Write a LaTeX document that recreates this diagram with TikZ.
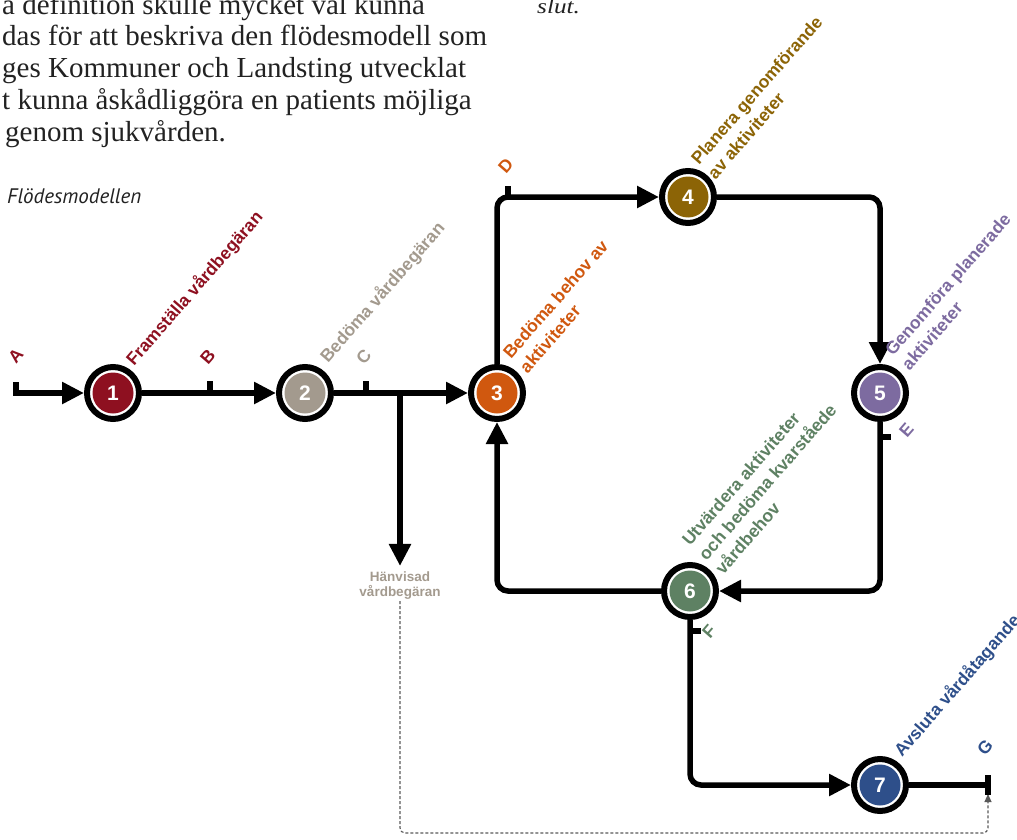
\documentclass[tikz,border=0pt]{standalone}
\usepackage{fontspec}
\setmainfont{Liberation Serif}
\newfontfamily\labfont{Liberation Sans}
\newfontfamily\captfont{PT Sans}
\usetikzlibrary{arrows.meta}
\definecolor{cone}{HTML}{8E1020}
\definecolor{ctwo}{HTML}{A39A8E}
\definecolor{cthree}{HTML}{D0580F}
\definecolor{cfour}{HTML}{8C6406}
\definecolor{cfive}{HTML}{7D6BA0}
\definecolor{csix}{HTML}{5E8163}
\definecolor{cseven}{HTML}{2E4F8A}
\definecolor{bodytext}{HTML}{222222}
\begin{document}
\begin{tikzpicture}[x=1pt,y=1pt,
  conn/.style={line width=5.5pt, -{Triangle[length=22pt,width=21pt]}, rounded corners=11pt},
  plainline/.style={line width=5.5pt, rounded corners=11pt},
  tickmark/.style={line width=5.5pt},
  stage/.style={circle, draw=black, line width=6pt, fill=white, minimum size=52pt, inner sep=0pt,
    text=white, font=\labfont\fontsize{21}{21}\selectfont\bfseries,
    path picture={\fill[#1] (path picture bounding box.center) circle (20.5pt);}},
  lbl/.style={anchor=base west, transform shape, inner sep=0pt, text=#1,
    font=\labfont\fontsize{17.5}{22}\selectfont\bfseries},
  mlbl/.style={anchor=north west, align=left, transform shape, inner sep=0pt, text=#1,
    font=\labfont\fontsize{17.5}{22}\selectfont\bfseries},
  bodyline/.style={anchor=base west, inner sep=0pt, text=bodytext, font=\fontsize{29}{32}\selectfont},
  dashline/.style={line width=1.1pt, draw=black!65, dash pattern=on 3pt off 2pt, rounded corners=5pt,
    -{Triangle[length=8pt,width=7pt]}},
]
\useasboundingbox (0,0) rectangle (1017,-840);
\clip (0,0) rectangle (1017,-840);

% body text
\node[bodyline] (t1) at (2,-15) {a definition skulle mycket väl kunna};
\node[bodyline] (t2) at (2,-46) {das för att beskriva den flödesmodell som};
\node[bodyline] (t3) at (2,-78) {ges Kommuner och Landsting utvecklat};
\node[bodyline] (t4) at (2,-110) {t kunna åskådliggöra en patients möjliga};
\node[bodyline] (t5) at (5,-142) {genom sjukvården.};
\node[bodyline, font=\itshape\fontsize{21}{24}\selectfont, xscale=1.2, transform shape] (t6) at (537,-14) {slut.};
\node[anchor=base west, inner sep=0pt, text=bodytext, font=\captfont\itshape\fontsize{21}{24}\selectfont] (capt) at (7,-203) {Flödesmodellen};

% stages
\node[stage=cone] (n1) at (113,-393) {1};
\node[stage=ctwo] (n2) at (305,-393) {2};
\node[stage=cthree] (n3) at (497,-393) {3};
\node[stage=cfour] (n4) at (688,-197) {4};
\node[stage=cfive] (n5) at (880,-393) {5};
\node[stage=csix] (n6) at (690,-591) {6};
\node[stage=cseven] (n7) at (880,-785) {7};

\coordinate (a) at (13,-393);
\coordinate (br) at (400,-393);
\coordinate (g) at (988,-785);

\node[align=center, inner sep=1pt, text=ctwo, font=\labfont\fontsize{13.5}{15}\selectfont\bfseries] (hv) at (400,-586) {Hänvisad\\vårdbegäran};

% connectors
\draw[conn] (a) -- (n1);
\draw[conn] (n1) -- (n2);
\draw[conn] (n2) -- (n3);
\draw[conn, shorten >=5pt] (br) -- (hv.north);
\draw[conn] (n3) |- (n4);
\draw[conn] (n4) -| (n5);
\draw[conn] (n5) |- (n6);
\draw[conn] (n6) -| (n3);
\draw[conn] (n6) |- (n7);
\draw[plainline] (n7) -- (g);
\draw[dashline, shorten >=9pt] (hv.south) |- (988,-833) -- (g);

% ticks
\draw[tickmark] (16,-393) -- (16,-382);
\draw[tickmark] (210,-393) -- (210,-381);
\draw[tickmark] (366,-393) -- (366,-381);
\draw[tickmark] (508,-197) -- (508,-186);
\draw[tickmark] (880,-437) -- (891,-437);
\draw[tickmark] (690,-631) -- (701,-631);
\draw[tickmark] (988,-775) -- (988,-795);

% labels
\begin{scope}[shift={(134,-367)}, rotate=49]
  \node[lbl=cone] (l1) at (0,0) {Framställa vårdbegäran};
\end{scope}
\begin{scope}[shift={(328,-364)}, rotate=49]
  \node[lbl=ctwo] (l2) at (0,0) {Bedöma vårdbegäran};
\end{scope}
\begin{scope}[shift={(511,-360)}, rotate=49]
  \node[mlbl=cthree] (l3) at (0,13) {Bedöma behov av\\aktiviteter};
\end{scope}
\begin{scope}[shift={(699,-166)}, rotate=49]
  \node[mlbl=cfour] (l4) at (0,13) {Planera genomförande\\av aktiviteter};
\end{scope}
\begin{scope}[shift={(893,-357)}, rotate=49]
  \node[mlbl=cfive] (l5) at (0,13) {Genomföra planerade\\aktiviteter};
\end{scope}
\begin{scope}[shift={(690,-547)}, rotate=49]
  \node[mlbl=csix] (l6) at (0,13) {Utvärdera aktiviteter\\och bedöma kvarståede\\vårdbehov};
\end{scope}
\begin{scope}[shift={(902,-758)}, rotate=49]
  \node[lbl=cseven] (l7) at (0,0) {Avsluta vårdåtagande};
\end{scope}

% letters
\begin{scope}[shift={(16,-365)}, rotate=49]\node[lbl=cone] (la) at (0,0) {A};\end{scope}
\begin{scope}[shift={(208,-366)}, rotate=49]\node[lbl=cone] (lb) at (0,0) {B};\end{scope}
\begin{scope}[shift={(364,-366)}, rotate=49]\node[lbl=ctwo] (lc) at (0,0) {C};\end{scope}
\begin{scope}[shift={(506,-175)}, rotate=49]\node[lbl=cthree] (ld) at (0,0) {D};\end{scope}
\begin{scope}[shift={(907,-439)}, rotate=49]\node[lbl=cfive] (le) at (0,0) {E};\end{scope}
\begin{scope}[shift={(710,-640)}, rotate=49]\node[lbl=csix] (lf) at (0,0) {F};\end{scope}
\begin{scope}[shift={(985,-757)}, rotate=49]\node[lbl=cseven] (lg) at (0,0) {G};\end{scope}
\end{tikzpicture}
\end{document}
